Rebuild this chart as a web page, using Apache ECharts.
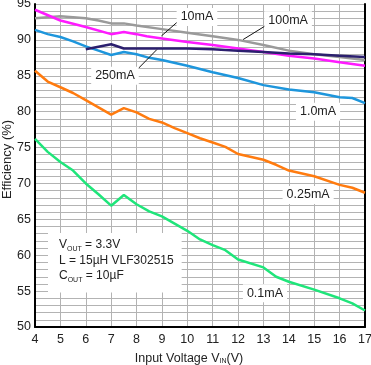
<!DOCTYPE html>
<html><head><meta charset="utf-8">
<script src="https://cdn.jsdelivr.net/npm/echarts@6/dist/echarts.min.js"></script>
<style>html,body{margin:0;padding:0;background:#fff}#c{width:371px;height:365px}</style>
</head><body><div id="c"></div>
<script>
// ---- data ----
const xTicks = [4,5,6,7,8,9,10,11,12,13,14,15,16,17];
const yTicks = [50,55,60,65,70,75,80,85,90,95];

const x100 = [4,5,6,6.5,7,7.5,8,9,10,11,12,13,14,15,16,17];
const y100 = [93.0,93.3,93.0,92.7,92.3,92.3,92.0,91.5,91.0,90.5,90.0,89.3,88.5,88.0,87.6,87.2];

const x10 = [4,5,6,7,7.5,8,8.4,9,10,11,12,13,14,15,16,17];
const y10 = [94.2,92.7,91.8,90.8,91.1,90.8,90.5,90.2,89.7,89.3,88.8,88.3,87.8,87.4,86.9,86.4];

const x250 = [6,7,7.5,8,9,10,11,12,13,14,15,16,17];
const y250 = [88.7,89.4,88.8,88.8,88.8,88.8,88.7,88.5,88.3,88.1,88.0,87.8,87.6];

const x1 = [4,4.5,5,5.5,6,6.5,7,7.5,8,8.5,9,10,11,12,13,14,15,16,16.5,17];
const y1 = [91.4,90.8,90.4,89.8,89.1,88.5,87.9,88.3,88.0,87.5,87.2,86.4,85.5,84.7,83.7,83.1,82.7,82.0,81.9,81.2];

const x025 = [4,4.5,5,5.5,6,6.5,7,7.5,8,8.5,9,9.5,10,10.5,11,11.5,12,13,13.5,14,15,16,16.5,17];
const y025 = [85.7,84.2,83.4,82.6,81.6,80.6,79.6,80.5,79.9,79.0,78.5,77.7,77.0,76.3,75.7,75.1,74.1,73.3,72.6,71.8,71.0,69.8,69.4,68.7];

const x01 = [4,4.5,5,5.5,6,6.5,7,7.5,8,8.5,9,10,10.5,11,11.5,12,13,13.5,14,15,16,16.5,17];
const y01 = [76.2,74.4,73.0,71.8,70.0,68.5,66.9,68.4,67.1,66.1,65.4,63.4,62.2,61.4,60.7,59.4,58.3,57.0,56.3,55.2,54.0,53.3,52.3];

const seriesNames = ['100mA','10mA','250mA','1.0mA','0.25mA','0.1mA'];
const seriesColors = ['#9a9a9a','#ff1aff','#2b1f6e','#1e96dc','#ff7b0f','#1fe57a'];

// label anchors (data coordinates) and arrows
const labelPos = {
  '10mA':[10.38,93.2], '100mA':[13.97,92.75], '250mA':[7.15,85.0],
  '1.0mA':[15.15,80.0], '0.25mA':[14.76,68.4], '0.1mA':[13.06,54.7]
};
const arrows = {
  '10mA':[[9.71,92.8],[8.98,90.55]],
  '100mA':[[13.14,92.1],[12.2,90.05]],
  '250mA':[[7.94,85.55],[8.8,88.65]]
};

const pairs = (xs, ys) => xs.map((x,i)=>[x, ys[i]]);
const xsAll = [x100,x10,x250,x1,x025,x01];
const ysAll = [y100,y10,y250,y1,y025,y01];

const FONT = 'Liberation Sans, Arial, sans-serif';
const chart = echarts.init(document.getElementById('c'));

const series = seriesNames.map((n, i) => {
  const s = {
    name: n, type: 'line', data: pairs(xsAll[i], ysAll[i]),
    showSymbol: false, symbol: 'none', z: 3 + (i===2?1:0),
    lineStyle: {color: seriesColors[i], width: 2.5},
    itemStyle: {color: seriesColors[i]},
    animation: false,
    markPoint: {
      silent: true, animation: false, symbol: 'circle', symbolSize: 1,
      itemStyle: {color: 'rgba(0,0,0,0)'},
      data: [{coord: labelPos[n], value: n}],
      label: {show: true, position: 'inside', formatter: n, color: '#222',
        fontFamily: FONT, fontSize: 12.5, backgroundColor: '#fff', padding: [3,4,2,4]}
    }
  };
  if (arrows[n]) {
    s.markLine = {
      silent: true, animation: false, symbol: ['none','arrow'], symbolSize: [0, 9],
      label: {show: false},
      lineStyle: {color: '#111', width: 1, type: 'solid'},
      data: [[{coord: arrows[n][0]}, {coord: arrows[n][1]}]]
    };
  }
  return s;
});

const option = {
  animation: false,
  textStyle: {fontFamily: FONT},
  grid: {left: 35, right: 6, top: 4, bottom: 38, containLabel: false, outerBoundsMode: 'none'},
  xAxis: {
    type: 'value', min: 4, max: 17, interval: 1,
    name: 'Input Voltage V{sub|IN}(V)', nameLocation: 'middle', nameGap: 25,
    nameMoveOverlap: false,
    nameTextStyle: {fontFamily: FONT, fontSize: 12.5, color: '#222', padding: [0, 22, 0, 0],
      rich: {sub: {fontSize: 7, verticalAlign: 'bottom', padding: [6,0,0,0], fontFamily: FONT, color:'#222'}}},
    axisLine: {show: true, onZero: false, lineStyle: {color: '#000', width: 2}},
    axisTick: {show: false},
    axisLabel: {color: '#222', fontSize: 12.5, fontFamily: FONT, margin: 6,
      formatter: v => xTicks.includes(v) ? String(v) : ''},
    splitLine: {show: true, lineStyle: {color: '#b3b3b3', width: 1}}
  },
  yAxis: [{
    type: 'value', min: 50, max: 95, interval: 5,
    name: 'Efficiency (%)', nameLocation: 'middle', nameGap: 21, nameRotate: 90,
    nameMoveOverlap: false,
    nameTextStyle: {fontFamily: FONT, fontSize: 13, color: '#222', padding: [0, 0, 0, 12]},
    axisLine: {show: true, onZero: false, lineStyle: {color: '#000', width: 2}},
    axisTick: {show: false},
    axisLabel: {color: '#222', fontSize: 12.5, fontFamily: FONT, margin: 4,
      formatter: v => yTicks.includes(v) ? String(v) : ''},
    splitLine: {show: true, lineStyle: {color: '#b3b3b3', width: 1}},
    minorTick: {show: false, splitNumber: 5},
    minorSplitLine: {show: true, lineStyle: {color: '#b3b3b3', width: 1}}
  }, {
    type: 'value', min: 50, max: 95, interval: 5, position: 'right',
    axisLine: {show: true, onZero: false, lineStyle: {color: '#000', width: 2}},
    axisTick: {show: false}, axisLabel: {show: false}, splitLine: {show: false}
  }],
  series: series,
  graphic: [{
    type: 'text', left: 48, top: 233, z: 100, zlevel: 0,
    style: {
      text: 'V{s|OUT} = 3.3V\nL = 15µH VLF302515\nC{s|OUT} = 10µF',
      font: '12px ' + FONT, fill: '#222', lineHeight: 15.5,
      backgroundColor: '#fff', padding: [4, 8, 9, 11],
      rich: {s: {fontSize: 7, fontFamily: FONT, fill: '#222', padding: [5,0,0,0], verticalAlign: 'bottom'}}
    }
  }]
};
chart.setOption(option);
</script></body></html>
